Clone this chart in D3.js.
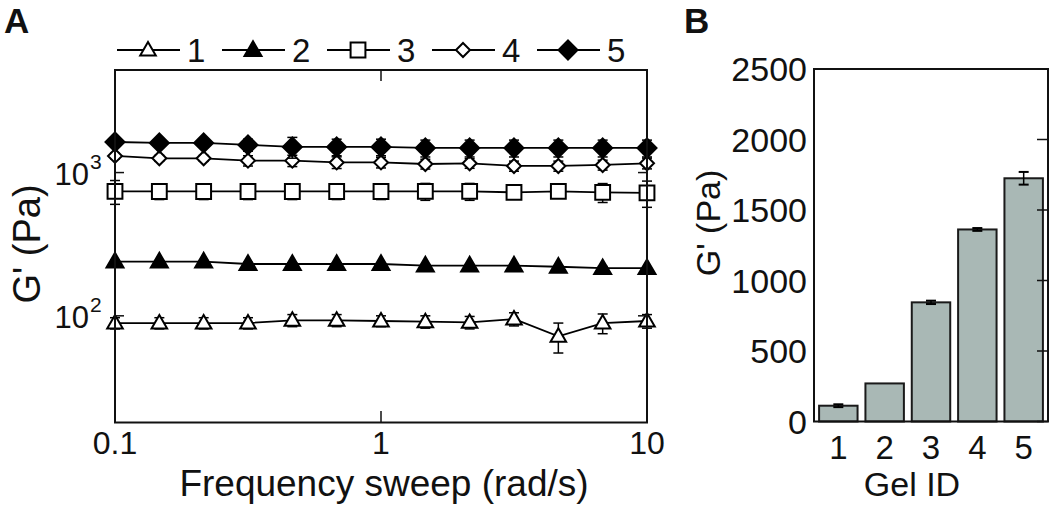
<html>
<head>
<style>
  body { margin: 0; background: #fff; }
  text { font-family: "Liberation Sans", Arial, sans-serif; fill: #111; }
</style>
</head>
<body>
<script src="https://cdn.jsdelivr.net/npm/d3@7/dist/d3.min.js"></script>
<script>

    // panel A: frequency sweep, G' per gel
    var freq = [0.1, 0.1468, 0.2154, 0.3162, 0.4642, 0.6813, 1, 1.468, 2.154, 3.162, 4.642, 6.813, 10];
    var s1 = [89, 89, 89, 89, 93, 93, 92, 91, 90, 95, 72, 89, 92];
    var s2 = [239, 239, 239, 230, 230, 230, 230, 224, 224, 224, 220, 215, 215];
    var s3 = [740, 738, 738, 738, 738, 738, 738, 740, 740, 728, 740, 728, 722];
    var s4 = [1306, 1258, 1258, 1211, 1211, 1177, 1177, 1148, 1161, 1112, 1112, 1130, 1161];
    var s5 = [1635, 1610, 1610, 1560, 1510, 1510, 1510, 1485, 1485, 1485, 1485, 1485, 1485];
    var e1 = [8, 8, 8, 8, 9, 9, 8, 9, 9, 10, 17, 14, 10];
    var e2 = [5, 4, 4, 6, 4, 4, 4, 4, 4, 4, 4, 6, 4];
    var e3 = [140, 90, 90, 90, 90, 90, 90, 100, 100, 70, 60, 110, 150];
    var e4 = [60, 60, 60, 100, 110, 110, 100, 90, 90, 90, 90, 90, 100];
    var e5 = [50, 50, 50, 150, 250, 200, 200, 200, 200, 200, 200, 200, 200];
    var seriesNames = ["1", "2", "3", "4", "5"];
    var xTicks = [0.1, 1, 10];
    var yTicksA = [100, 1000];

    // panel B: G' per gel ID
    var gelIds = ["1", "2", "3", "4", "5"];
    var gelMean = [112, 270, 845, 1362, 1725];
    var gelErr = [10, 0, 12, 10, 45];
    var yTicksB = [0, 500, 1000, 1500, 2000, 2500];

    var width = 1050, height = 505;
    var svg = d3.select("body").append("svg").attr("width", width).attr("height", height);

    // ---------- panel A ----------
    var x = d3.scaleLog().domain([0.1, 10]).range([115, 647]);
    var y = d3.scaleLog().domain([18, 5200]).range([422.5, 70]);

    var gA = svg.append("g");

    var symbols = [
        {type: d3.symbolTriangle, size: 105, fill: "#fff"},
        {type: d3.symbolTriangle, size: 125, fill: "#000"},
        {type: d3.symbolSquare, size: 220, fill: "#fff"},
        {type: "diamond", size: 7, fill: "#fff"},
        {type: "diamond", size: 9.5, fill: "#000"}
    ];

    function drawMarker(sel, s) {
        if (s.type === "diamond") {
            var r = s.size;
            sel.append("path").attr("d", "M0," + (-r) + "L" + r + ",0L0," + r + "L" + (-r) + ",0Z")
                .attr("fill", s.fill).attr("stroke", "#000").attr("stroke-width", 2);
        } else {
            var p = sel.append("path").attr("d", d3.symbol().type(s.type).size(s.size)())
                .attr("fill", s.fill).attr("stroke", "#000").attr("stroke-width", 2);
            if (s.type === d3.symbolTriangle) p.attr("transform", "translate(0,1)");
        }
    }

    var series = [s1, s2, s3, s4, s5].map(function (vals, i) {
        var errs = [e1, e2, e3, e4, e5][i];
        return vals.map(function (v, j) {
            return {f: freq[j], v: v, e: errs[j]};
        });
    });

    var line = d3.line().x(function (d) { return x(d.f); }).y(function (d) { return y(d.v); });

    series.forEach(function (pts, i) {
        var g = gA.append("g");
        // error bars
        pts.forEach(function (d) {
            var cx = x(d.f), y0 = y(d.v - d.e), y1 = y(d.v + d.e);
            g.append("line").attr("x1", cx).attr("x2", cx).attr("y1", y0).attr("y2", y1)
                .attr("stroke", "#000").attr("stroke-width", 1.5);
            [y0, y1].forEach(function (yy) {
                g.append("line").attr("x1", cx - 5).attr("x2", cx + 5).attr("y1", yy).attr("y2", yy)
                    .attr("stroke", "#000").attr("stroke-width", 1.5);
            });
        });
        g.append("path").datum(pts).attr("d", line)
            .attr("fill", "none").attr("stroke", "#000").attr("stroke-width", 1.8);
        pts.forEach(function (d) {
            var m = g.append("g").attr("transform", "translate(" + x(d.f) + "," + y(d.v) + ")");
            drawMarker(m, symbols[i]);
        });
    });

    // frame
    gA.append("rect").attr("x", 115).attr("y", 70).attr("width", 532).attr("height", 352.5)
        .attr("fill", "none").attr("stroke", "#111").attr("stroke-width", 2);

    // x ticks and labels
    xTicks.forEach(function (t) {
        gA.append("line").attr("x1", x(t)).attr("x2", x(t)).attr("y1", 422.5).attr("y2", 411)
            .attr("stroke", "#111").attr("stroke-width", 1.5);
        gA.append("line").attr("x1", x(t)).attr("x2", x(t)).attr("y1", 70).attr("y2", 81)
            .attr("stroke", "#111").attr("stroke-width", 1.5);
        gA.append("text").attr("x", x(t)).attr("y", 454).attr("text-anchor", "middle")
            .style("font-size", "32px").text(d3.format("~g")(t));
    });

    // y ticks and labels (10^n)
    yTicksA.forEach(function (t) {
        gA.append("line").attr("x1", 115).attr("x2", 124).attr("y1", y(t)).attr("y2", y(t))
            .attr("stroke", "#111").attr("stroke-width", 1.5);
        gA.append("line").attr("x1", 647).attr("x2", 638).attr("y1", y(t)).attr("y2", y(t))
            .attr("stroke", "#111").attr("stroke-width", 1.5);
        gA.append("text").attr("x", 89).attr("y", y(t) + 12).attr("text-anchor", "end")
            .style("font-size", "31px").text("10");
        gA.append("text").attr("x", 90).attr("y", y(t) - 4).style("font-size", "21px")
            .text(String(Math.round(Math.log10(t))));
    });

    gA.append("text").attr("transform", "translate(40,244) rotate(-90)").attr("text-anchor", "middle")
        .style("font-size", "38px").text("G' (Pa)");
    gA.append("text").attr("x", 384).attr("y", 496).attr("text-anchor", "middle")
        .style("font-size", "37px").text("Frequency sweep (rad/s)");

    // legend
    var legend = gA.append("g");
    seriesNames.forEach(function (name, i) {
        var lx = 117 + i * 105;
        var item = legend.append("g").attr("transform", "translate(" + lx + ",50)");
        item.append("line").attr("x1", 0).attr("x2", 63).attr("y1", 0).attr("y2", 0)
            .attr("stroke", "#000").attr("stroke-width", 1.8);
        var m = item.append("g").attr("transform", "translate(31,0)");
        drawMarker(m, symbols[i]);
        item.append("text").attr("x", 70).attr("y", 12).style("font-size", "33px").text(name);
    });

    svg.append("text").attr("x", 4).attr("y", 33).style("font-size", "35px").style("font-weight", "bold").text("A");

    // ---------- panel B ----------
    var gB = svg.append("g");
    var xb = d3.scaleBand().domain(gelIds).range([814, 1048]).paddingInner(0.17).paddingOuter(0.11);
    var yb = d3.scaleLinear().domain([0, 2500]).range([421.5, 69]);

    gelIds.forEach(function (id, i) {
        gB.append("rect").attr("x", xb(id)).attr("y", yb(gelMean[i]))
            .attr("width", xb.bandwidth()).attr("height", yb(0) - yb(gelMean[i]))
            .attr("fill", "#a9b8b5").attr("stroke", "#1a1a1a").attr("stroke-width", 2);
        if (gelErr[i] > 0) {
            var cx = xb(id) + xb.bandwidth() / 2;
            var ya = yb(gelMean[i] - gelErr[i]), yc = yb(gelMean[i] + gelErr[i]);
            gB.append("line").attr("x1", cx).attr("x2", cx).attr("y1", ya).attr("y2", yc)
                .attr("stroke", "#000").attr("stroke-width", 1.5);
            [ya, yc].forEach(function (yy) {
                gB.append("line").attr("x1", cx - 5).attr("x2", cx + 5).attr("y1", yy).attr("y2", yy)
                    .attr("stroke", "#000").attr("stroke-width", 2);
            });
        }
        gB.append("text").attr("x", xb(id) + xb.bandwidth() / 2).attr("y", 459).attr("text-anchor", "middle")
            .style("font-size", "33px").text(id);
    });

    gB.append("rect").attr("x", 814).attr("y", 69).attr("width", 234).attr("height", 352.5)
        .attr("fill", "none").attr("stroke", "#111").attr("stroke-width", 2);

    yTicksB.forEach(function (t) {
        gB.append("line").attr("x1", 1048).attr("x2", 1037).attr("y1", yb(t)).attr("y2", yb(t))
            .attr("stroke", "#111").attr("stroke-width", 1.5);
        gB.append("text").attr("x", 807).attr("y", yb(t) + 12).attr("text-anchor", "end")
            .style("font-size", "34px").text(t);
    });

    gB.append("text").attr("transform", "translate(720,223) rotate(-90)").attr("text-anchor", "middle")
        .style("font-size", "34px").text("G' (Pa)");
    gB.append("text").attr("x", 912).attr("y", 496).attr("text-anchor", "middle")
        .style("font-size", "34px").text("Gel ID");

    svg.append("text").attr("x", 684).attr("y", 33).style("font-size", "35px").style("font-weight", "bold").text("B");

</script>
</body>
</html>
